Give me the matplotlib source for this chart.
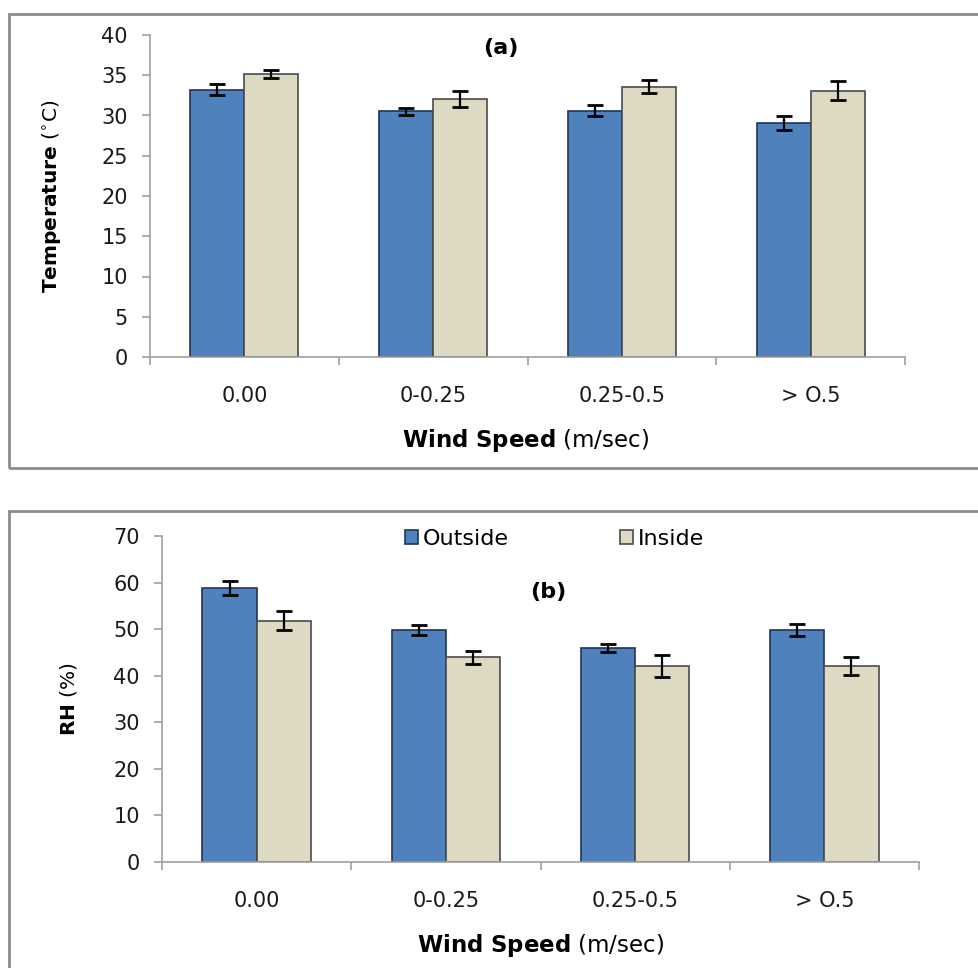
import matplotlib
matplotlib.use("Agg")
import matplotlib.pyplot as plt
from matplotlib.patches import Rectangle
import numpy as np

# data
wind = ["0.00", "0-0.25", "0.25-0.5", "> O.5"]
temp_out = [33.2, 30.5, 30.6, 29.1]
temp_out_err = [0.7, 0.4, 0.7, 0.85]
temp_in = [35.1, 32.1, 33.6, 33.1]
temp_in_err = [0.5, 1.0, 0.8, 1.2]
rh_out = [58.8, 49.8, 46.0, 49.8]
rh_out_err = [1.5, 1.0, 0.9, 1.2]
rh_in = [51.8, 44.0, 42.1, 42.1]
rh_in_err = [2.0, 1.4, 2.3, 1.9]

c_out = "#4F81BD"
c_in = "#DDD9C3"
axis_gray = "#A0A0A0"

fig = plt.figure(figsize=(9.79, 9.68), dpi=100)

# grey frames round each panel (as in the source document)
for y0, h in [(1 - 468 / 968, (468 - 14) / 968), (-0.05, (968 - 511) / 968 + 0.05)]:
    fig.patches.append(Rectangle((9 / 979, y0), 1.2, h, transform=fig.transFigure,
                                 fill=False, edgecolor="#8C8C8C", linewidth=2, clip_on=False))

ax1 = fig.add_axes([150 / 979, 1 - 357 / 968, 755 / 979, 322 / 968])
ax2 = fig.add_axes([162 / 979, 1 - 862 / 968, 757 / 979, 326 / 968])

x = np.arange(len(wind))
w = 0.286
ekw = dict(ecolor="black", elinewidth=1.6, capsize=5.5, capthick=2)


def draw(ax, out, out_err, inn, in_err, ymax, ystep):
    ax.bar(x - w / 2, out, w, yerr=out_err, color=c_out, edgecolor="#1F3558",
           linewidth=1.2, error_kw=ekw, label="Outside", zorder=2)
    ax.bar(x + w / 2, inn, w, yerr=in_err, color=c_in, edgecolor="#4A4A4A",
           linewidth=1.2, error_kw=ekw, label="Inside", zorder=2)
    ax.set_xlim(-0.5, len(wind) - 0.5)
    ax.set_ylim(0, ymax)
    ax.set_yticks(np.arange(0, ymax + 1, ystep))
    ax.set_xticks(x)
    ax.set_xticklabels(wind)
    ax.set_xticks(np.arange(-0.5, len(wind), 1), minor=True)
    ax.tick_params(axis="x", which="major", length=0, pad=21, labelsize=15, labelcolor="#1a1a1a")
    ax.tick_params(axis="x", which="minor", length=6, width=1.2, color=axis_gray)
    ax.tick_params(axis="y", length=6, width=1.2, color=axis_gray, pad=10,
                   labelsize=15, labelcolor="#1a1a1a")
    for s in ["top", "right"]:
        ax.spines[s].set_visible(False)
    for s in ["left", "bottom"]:
        ax.spines[s].set_color(axis_gray)
        ax.spines[s].set_linewidth(1.2)
    ax.set_xlabel(r"$\bf{Wind\ Speed}$ (m/sec)", fontsize=16.5)
    ax.xaxis.label.set_va("center")


draw(ax1, temp_out, temp_out_err, temp_in, temp_in_err, 40, 5)
draw(ax2, rh_out, rh_out_err, rh_in, rh_in_err, 70, 10)

ax1.set_ylabel(r"$\bf{Temperature}$ ($^{\circ}$C)", fontsize=14.5)
ax2.set_ylabel(r"$\bf{RH}$ (%)", fontsize=14.5)
ax1.yaxis.set_label_coords(-0.131, 0.5)
ax2.yaxis.set_label_coords(-0.124, 0.5)
ax1.xaxis.set_label_coords(0.498, -0.258)
ax2.xaxis.set_label_coords(0.5, -0.255)
for a in (ax1, ax2):
    a.yaxis.label.set_va("center")

ax1.text(0.464, 0.96, "(a)", transform=ax1.transAxes, ha="center", va="center",
         fontsize=16, fontweight="bold")
ax2.text(0.51, 0.828, "(b)", transform=ax2.transAxes, ha="center", va="center",
         fontsize=16, fontweight="bold")

ax2.legend(loc="center", bbox_to_anchor=(0.519, 0.991), ncol=2, frameon=False,
           fontsize=16, handlelength=0.55, handleheight=0.55, handletextpad=0.25,
           columnspacing=5.0, borderpad=0)

fig.savefig("out.png", dpi=100)
